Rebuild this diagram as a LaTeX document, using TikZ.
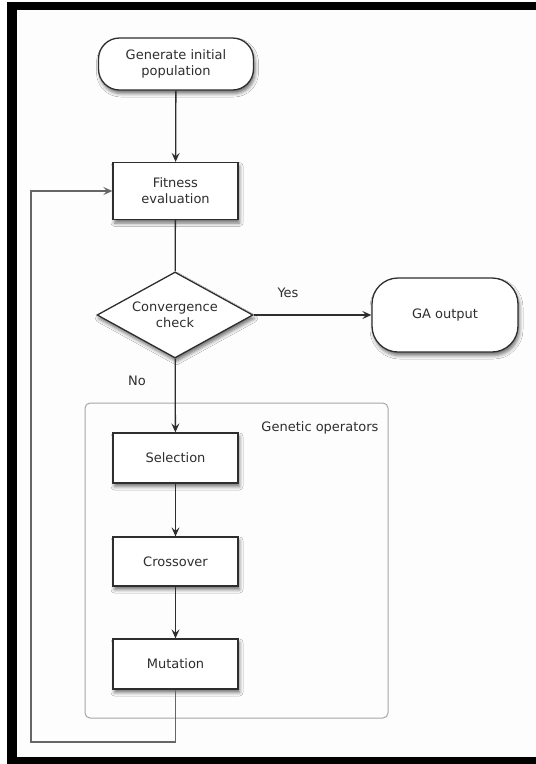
\documentclass[tikz,border=0pt]{standalone}
\usepackage{fontspec}
\setmainfont{DejaVu Sans}
\usetikzlibrary{shapes.geometric,arrows.meta,shadows.blur}

\definecolor{ink}{HTML}{2E2E2E}
\definecolor{paper}{HTML}{FDFDFD}

\tikzset{
  box/.style={draw=ink, line width=1.3pt, fill=white, text=ink,
    font=\fontsize{13}{16}\selectfont, align=center, inner sep=2pt,
    blur shadow={shadow xshift=1.5pt, shadow yshift=-3.5pt,
      shadow blur radius=3.5pt, shadow opacity=55}},
  procbox/.style={box, rectangle, minimum width=125pt},
  terminal/.style={box, rectangle},
  decision/.style={box, diamond, shape aspect=1.8, inner sep=0pt,
    minimum width=156pt, minimum height=86pt},
  tip/.style={-{Stealth[length=9pt, width=8pt, inset=3.5pt]}},
  flow/.style={draw=ink, line width=1.3pt, tip},
  plainflow/.style={draw=ink, line width=1.3pt},
  loopback/.style={draw=black!60, line width=1.3pt, tip},
  lbl/.style={text=ink, font=\fontsize{13}{16}\selectfont}
}

\begin{document}
\begin{tikzpicture}[x=1pt, y=-1pt]
  % page and frame
  \useasboundingbox (0,0) rectangle (536,764);
  \fill[white] (-4,-4) rectangle (540,768);
  \fill[paper] (17,10) rectangle (540,757);
  \fill[black] (7,2) rectangle (17,768);
  \fill[black] (7,2) rectangle (540,10);
  \fill[black] (7,757) rectangle (540,768);

  % group of genetic operators
  \node[draw=black!35, line width=1pt, rounded corners=5pt, minimum width=303pt,
        minimum height=315pt, inner sep=0pt] (ops) at (236.5,560.5) {};
  \node[lbl, anchor=east] (opslbl) at (382,428) {Genetic operators};

  % steps
  \node[terminal, rounded corners=21pt, minimum width=155pt, minimum height=52pt]
    (init) at (176,64) {Generate initial\\population};
  \node[procbox, minimum height=57pt] (fit) at (175.5,191) {Fitness\\evaluation};
  \node[decision] (conv) at (175,315) {Convergence\\check};
  \node[terminal, rounded corners=26pt, minimum width=146pt, minimum height=74pt]
    (ga) at (445,315) {GA output};
  \node[procbox, minimum height=50pt] (sel) at (175.5,458) {Selection};
  \node[procbox, minimum height=49pt] (cro) at (175.5,561.5) {Crossover};
  \node[procbox, minimum height=50pt] (mut) at (175.5,664) {Mutation};

  % labels
  \node[lbl] (yes) at (288,293) {Yes};
  \node[lbl] (no) at (137,381) {No};

  % connectors
  \draw[flow] (init) -- (fit);
  \draw[plainflow] (fit) -- (conv);
  \draw[flow] (conv) -- (ga);
  \draw[flow] (conv) -- (sel);
  \draw[flow] (sel) -- (cro);
  \draw[flow] (cro) -- (mut);
  \coordinate (lb) at (31,742);
  \draw[loopback] (mut.south) |- (lb) |- (fit.west);
\end{tikzpicture}
\end{document}
